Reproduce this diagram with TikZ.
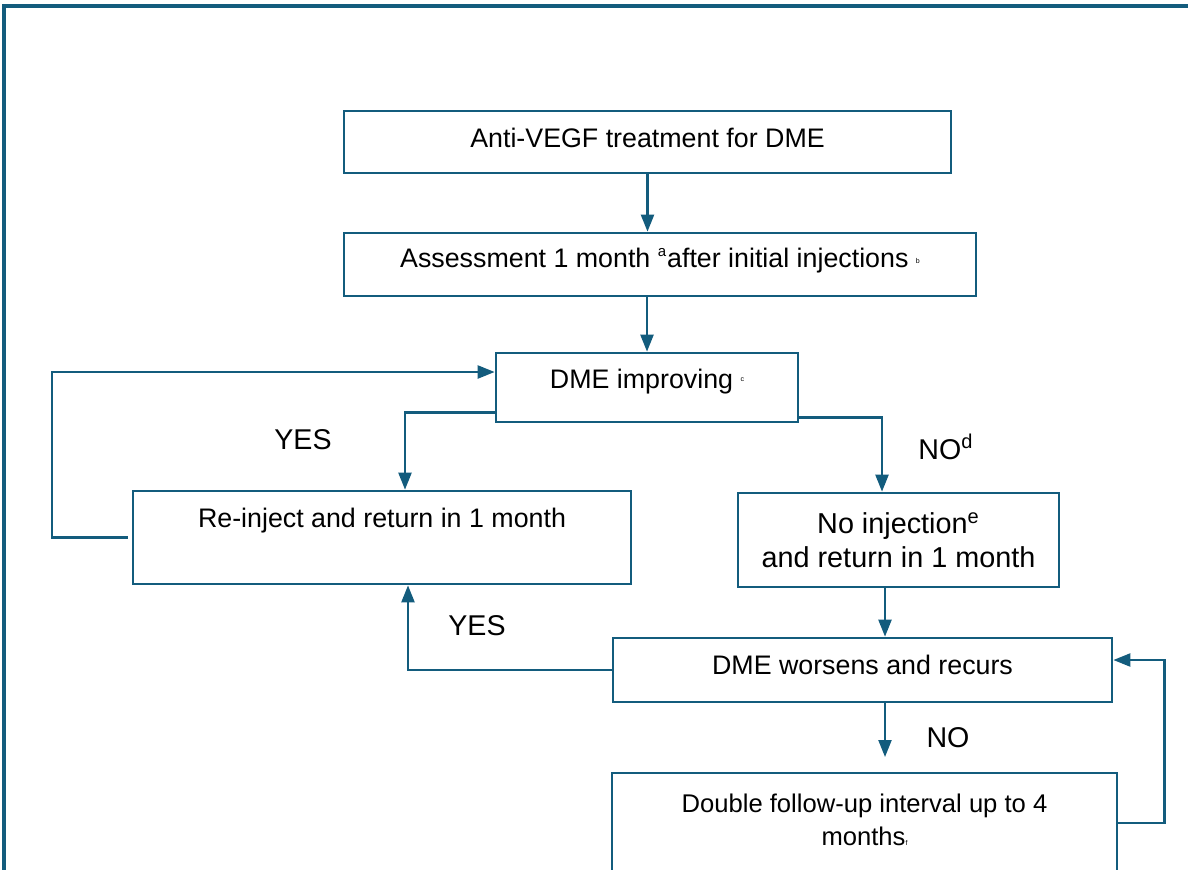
\documentclass[tikz,border=0pt]{standalone}
\usepackage{fontspec}
\setmainfont{Liberation Sans}
\usetikzlibrary{arrows.meta}
\definecolor{flowteal}{RGB}{19,92,125}
\newcommand{\tinysup}[2][2pt]{\raisebox{#1}{\fontsize{3.5}{4}\selectfont #2}}

\begin{document}
\begin{tikzpicture}[x=0.5pt,y=-0.5pt,
  box/.style={rectangle,draw=flowteal,line width=1.35pt,fill=white,inner sep=0pt,align=center,font=\fontsize{13.4}{16}\selectfont},
  arr/.style={draw=flowteal,line width=1.15pt,-{Triangle[length=8.5pt,width=6.5pt]}},
  lab/.style={font=\fontsize{14.3}{17}\selectfont}]

  \useasboundingbox (0,0) rectangle (1188,869);
  \clip (0,0) rectangle (1188,869);

  % outer frame
  \draw[flowteal,line width=1.6pt] (4,900) -- (4,6) -- (1200,6);

  \node[box,minimum width=303.5pt,minimum height=31pt,text height=9pt,text depth=4pt] (treat) at (647.5,142) {Anti-VEGF treatment for DME};
  \node[box,minimum width=316pt,minimum height=31.5pt,text height=8pt,text depth=5.5pt] (assess) at (660,264.5) {Assessment 1 month \textsuperscript{\fontsize{7.5}{8}\selectfont a}after initial injections \tinysup{b}};
  \node[box,minimum width=151pt,minimum height=34.5pt,text height=8pt,text depth=7.5pt] (improve) at (647,387.5) {DME improving \tinysup[3.5pt]{c}};
  \node[box,minimum width=249pt,minimum height=46.5pt,text height=8pt,text depth=18.5pt] (reinject) at (382,537.5) {Re-inject and return in 1 month};
  \node[box,minimum width=160.5pt,minimum height=47pt,font=\fontsize{14.4}{17}\selectfont] (noinj) at (898.5,540) {No injection\textsuperscript{e}\\and return in 1 month};
  \node[box,minimum width=249.5pt,minimum height=32pt,text height=8pt,text depth=3.5pt] (worse) at (862.5,670) {DME worsens and recurs};
  \node[box,minimum width=252.5pt,minimum height=53.5pt,text height=24pt,text depth=5.5pt,font=\fontsize{12.8}{16.5}\selectfont] (double) at (864.5,826.5) {Double follow-up interval up to 4\\months\tinysup[0pt]{f}};
  \coordinate (noend) at (885,757);

  \node[lab] (yesa) at (303,440) {YES};
  \node[lab] (nod) at (946,447) {NO\textsuperscript{d}};
  \node[lab] (yesb) at (477,626) {YES};
  \node[lab] (nob) at (948,738) {NO};

  \draw[arr] (treat.south) -- (treat.south |- assess.north);
  \draw[arr] (improve.north |- assess.south) -- (improve.north);
  \draw[arr] ([yshift=5.5pt]improve.south west) -| ([xshift=11.5pt]reinject.north);
  \draw[arr] ([yshift=3pt]improve.south east) -| ([xshift=-8.25pt]noinj.north);
  \draw[arr] ([xshift=-2pt]reinject.west) -- ++(-76,0) |- ([yshift=7.75pt]improve.west);
  \draw[arr] ([xshift=-6.75pt]noinj.south) -- ([xshift=-6.75pt]noinj.south |- worse.north);
  \draw[arr] (worse.west) -| ([xshift=13pt]reinject.south);
  \draw[arr] ([xshift=11.25pt]worse.south) -- (noend);
  \draw[arr] ([yshift=1.75pt]double.east) -- ++(46,0) |- ([yshift=5pt]worse.east);
\end{tikzpicture}
\end{document}
